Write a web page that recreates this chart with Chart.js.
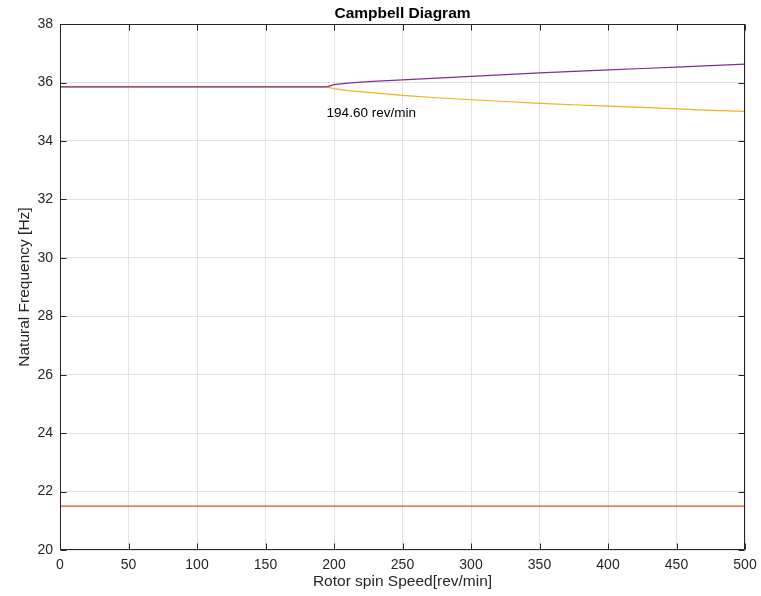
<!DOCTYPE html>
<html>
<head>
<meta charset="utf-8">
<script src="https://cdn.jsdelivr.net/npm/chart.js@4.4.1/dist/chart.umd.min.js"></script>
<style>
  html, body { margin: 0; padding: 0; background: #ffffff; }
  #wrap { width: 761px; height: 596px; position: relative; }
</style>
</head>
<body>
<div id="wrap"><canvas id="c" width="761" height="596"></canvas></div>
<script>
// ---- data ----
const chartTitle = 'Campbell Diagram';
const xAxisTitle = 'Rotor spin Speed[rev/min]';
const yAxisTitle = 'Natural Frequency [Hz]';

const xTicks = [0, 50, 100, 150, 200, 250, 300, 350, 400, 450, 500];
const yTicks = [20, 22, 24, 26, 28, 30, 32, 34, 36, 38];

const speedsFlat = [0, 500];
const mode1Hz = [21.5, 21.5];

const speedsSplit = [0, 194.6, 200, 210, 225, 250, 275, 300, 325, 350, 375, 400, 425, 450, 475, 500];
const backwardHz  = [35.85, 35.85, 35.79, 35.72, 35.66, 35.56, 35.48, 35.41, 35.35, 35.29, 35.24, 35.19, 35.15, 35.10, 35.05, 35.01];
const forwardHz   = [35.85, 35.85, 35.93, 35.98, 36.03, 36.09, 36.15, 36.21, 36.27, 36.33, 36.38, 36.43, 36.48, 36.53, 36.58, 36.63];

const annotationText = '194.60 rev/min';
const annotationX = 194.6;
const annotationY = 34.95;

// ---- helpers ----
const toXY = (xs, ys) => xs.map((x, i) => ({ x: x, y: ys[i] }));
const FONT = "'Liberation Sans', Arial, Helvetica, sans-serif";
const TEXT = '#262626';
const AXIS = '#262626';

const boxAndTicks = {
  id: 'boxAndTicks',
  afterDraw(chart) {
    const { ctx, chartArea: a, scales } = chart;
    const L = Math.round(a.left) + 0.5, R = Math.round(a.right) - 0.5;
    const T = Math.round(a.top) + 0.5, B = Math.round(a.bottom) - 0.5;
    const len = 6;
    ctx.save();
    ctx.strokeStyle = AXIS;
    ctx.lineWidth = 1;
    ctx.beginPath();
    xTicks.forEach(v => {
      const px = Math.round(scales.x.getPixelForValue(v)) + 0.5;
      ctx.moveTo(px, B); ctx.lineTo(px, B - len);
      ctx.moveTo(px, T); ctx.lineTo(px, T + len);
    });
    yTicks.forEach(v => {
      const py = Math.round(scales.y.getPixelForValue(v)) + 0.5;
      ctx.moveTo(L, py); ctx.lineTo(L + len, py);
      ctx.moveTo(R, py); ctx.lineTo(R - len, py);
    });
    ctx.stroke();
    ctx.strokeRect(L, T, R - L, B - T);
    // annotation text
    ctx.fillStyle = '#000000';
    ctx.font = '13.5px ' + FONT;
    ctx.textAlign = 'left';
    ctx.textBaseline = 'middle';
    ctx.fillText(annotationText, scales.x.getPixelForValue(annotationX), scales.y.getPixelForValue(annotationY));
    ctx.restore();
  }
};

new Chart(document.getElementById('c'), {
  type: 'line',
  data: {
    datasets: [
      { label: 'forward', order: 1, data: toXY(speedsSplit, forwardHz), borderColor: '#7E2F8E', borderWidth: 1.2, pointRadius: 0, fill: false, tension: 0 },
      { label: 'backward', order: 2, data: toXY(speedsSplit, backwardHz), borderColor: '#EDB120', borderWidth: 1.2, pointRadius: 0, fill: false, tension: 0 },
      { label: 'mode 1', order: 3, data: toXY(speedsFlat, mode1Hz), borderColor: '#D95319', borderWidth: 1.2, pointRadius: 0, fill: false, tension: 0 }
    ]
  },
  options: {
    responsive: false,
    animation: false,
    devicePixelRatio: 1,
    layout: { padding: { left: 0, right: 16, top: 0, bottom: 0 } },
    plugins: {
      legend: { display: false },
      tooltip: { enabled: false },
      title: {
        display: true,
        text: chartTitle,
        fullSize: false,
        color: '#000000',
        font: { family: FONT, size: 15.5, weight: 'bold', lineHeight: 1.2 },
        padding: { top: 4.5, bottom: 1 }
      }
    },
    scales: {
      x: {
        type: 'linear',
        min: 0, max: 500,
        afterFit(s) { s.height = 46; s.paddingLeft = 0; s.paddingRight = 0; },
        afterBuildTicks(s) { s.ticks = xTicks.map(v => ({ value: v })); },
        ticks: { color: TEXT, font: { family: FONT, size: 14 }, padding: 7, maxRotation: 0, autoSkip: false },
        grid: { color: '#e3e3e3', lineWidth: 1, drawTicks: false },
        border: { display: false },
        title: { display: true, text: xAxisTitle, color: TEXT, font: { family: FONT, size: 15.5, lineHeight: 1.2 }, padding: { top: 0, bottom: 5 } }
      },
      y: {
        type: 'linear',
        min: 20, max: 38,
        afterFit(s) { s.width = 60; s.paddingTop = 0; s.paddingBottom = 0; },
        afterBuildTicks(s) { s.ticks = yTicks.map(v => ({ value: v })); },
        ticks: { color: TEXT, font: { family: FONT, size: 14 }, padding: 7, autoSkip: false },
        grid: { color: '#e3e3e3', lineWidth: 1, drawTicks: false },
        border: { display: false },
        title: { display: true, text: yAxisTitle, color: TEXT, font: { family: FONT, size: 15.5, lineHeight: 1.2 }, padding: { top: 15, bottom: 0 } }
      }
    }
  },
  plugins: [boxAndTicks]
});
</script>
</body>
</html>
